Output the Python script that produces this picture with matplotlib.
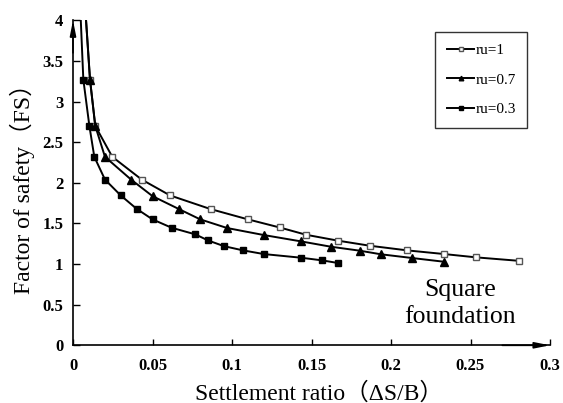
import matplotlib
matplotlib.use("Agg")
import matplotlib.pyplot as plt

# ---- data ----
x_ru1 = [0.0065, 0.0107, 0.0140, 0.0247, 0.0432, 0.0610, 0.0866, 0.1100, 0.1300,
         0.1467, 0.1669, 0.1868, 0.2103, 0.2335, 0.2537, 0.2803]
y_ru1 = [4.50, 3.27, 2.70, 2.32, 2.04, 1.845, 1.676, 1.55, 1.45,
         1.36, 1.287, 1.225, 1.168, 1.123, 1.082, 1.04]

x_ru07 = [0.0065, 0.0107, 0.0140, 0.0201, 0.0365, 0.0500, 0.0667, 0.0800, 0.0970,
          0.1200, 0.1434, 0.1623, 0.1805, 0.1937, 0.2134, 0.2335]
y_ru07 = [4.50, 3.27, 2.70, 2.32, 2.04, 1.836, 1.676, 1.55, 1.443,
          1.357, 1.279, 1.213, 1.164, 1.12, 1.074, 1.028]

x_ru03 = [0.0038, 0.0065, 0.0103, 0.0134, 0.0201, 0.0300, 0.0400, 0.0500, 0.0620,
          0.0770, 0.0850, 0.0950, 0.1070, 0.1200, 0.1434, 0.1568, 0.1669]
y_ru03 = [4.50, 3.27, 2.70, 2.32, 2.04, 1.845, 1.68, 1.55, 1.447,
          1.365, 1.29, 1.22, 1.168, 1.123, 1.078, 1.045, 1.012]

labels = ["ru=1", "ru=0.7", "ru=0.3"]
xticks = [0, 0.05, 0.1, 0.15, 0.2, 0.25, 0.3]
xticklabels = ["0", "0.05", "0.1", "0.15", "0.2", "0.25", "0.3"]
yticks = [0, 0.5, 1, 1.5, 2, 2.5, 3, 3.5, 4]
yticklabels = ["0", "0.5", "1", "1.5", "2", "2.5", "3", "3.5", "4"]

serif = ["Liberation Serif", "Noto Sans CJK SC", "DejaVu Serif"]
plt.rcParams["font.family"] = serif

fig = plt.figure(figsize=(5.63, 4.03), dpi=100)
ax = fig.add_axes([73 / 563, 1 - 345.3 / 403, (550 - 73) / 563, (345.3 - 20.3) / 403])

lw = 1.4
ax.plot(x_ru1, y_ru1, color="black", lw=lw, marker="s", markersize=4.2,
        markerfacecolor="white", markeredgecolor="#555555", markeredgewidth=1.0,
        label=labels[0], markevery=list(range(1, len(x_ru1))))
ax.plot(x_ru07, y_ru07, color="black", lw=lw, marker="^", markersize=5.5,
        markerfacecolor="black", markeredgecolor="black",
        label=labels[1], markevery=list(range(1, len(x_ru07))))
ax.plot(x_ru03, y_ru03, color="black", lw=lw, marker="s", markersize=5,
        markerfacecolor="black", markeredgecolor="black",
        label=labels[2], markevery=list(range(1, len(x_ru03))))

ax.set_xlim(0, 0.3)
ax.set_ylim(0, 4)
ax.set_xticks(xticks)
ax.set_xticklabels(xticklabels)
ax.set_yticks(yticks)
ax.set_yticklabels(yticklabels)
for lab in ax.get_xticklabels() + ax.get_yticklabels():
    lab.set_fontweight("bold")
    lab.set_fontsize(12)
ax.tick_params(axis="x", direction="in", length=4, width=1, pad=9)
ax.tick_params(axis="y", direction="in", length=5, width=1, pad=7)

for s in ["top", "right"]:
    ax.spines[s].set_visible(False)
for s in ["left", "bottom"]:
    ax.spines[s].set_linewidth(1.2)

# axis arrows
ax.annotate("", xy=(1.0, 0), xytext=(0.9, 0), xycoords="axes fraction",
            arrowprops=dict(arrowstyle="-|>,head_length=0.9,head_width=0.18",
                            color="black", lw=1.2, shrinkA=0, shrinkB=0))
ax.annotate("", xy=(0, 1.0), xytext=(0, 0.9), xycoords="axes fraction",
            arrowprops=dict(arrowstyle="-|>,head_length=0.9,head_width=0.18",
                            color="black", lw=1.2, shrinkA=0, shrinkB=0))

ax.set_xlabel("Settlement ratio（ΔS/B）", fontsize=17)
ax.xaxis.label.set_va("baseline")
ax.xaxis.set_label_coords(0.515, (345.3 - 399.5) / 325)
ax.set_ylabel("Factor of safety（FS）", fontsize=17)
ax.yaxis.label.set_va("center")
ax.yaxis.set_label_coords((22 - 73) / 477, 0.5)

ax.text(0.2435, 0.51, "Square\nfoundation", fontsize=18.5, ha="center", va="center",
        linespacing=1.3)

leg = ax.legend(loc="upper right", bbox_to_anchor=((527 - 73) / 477, 1 - (31.7 - 20.3) / 325),
                fontsize=11, frameon=True, fancybox=False, edgecolor="black",
                handlelength=1.8, handletextpad=0.05, labelspacing=1.05,
                borderpad=0.75, borderaxespad=0, markerscale=0.6)
leg.get_frame().set_linewidth(1.0)

fig.savefig("out.png", dpi=100)
